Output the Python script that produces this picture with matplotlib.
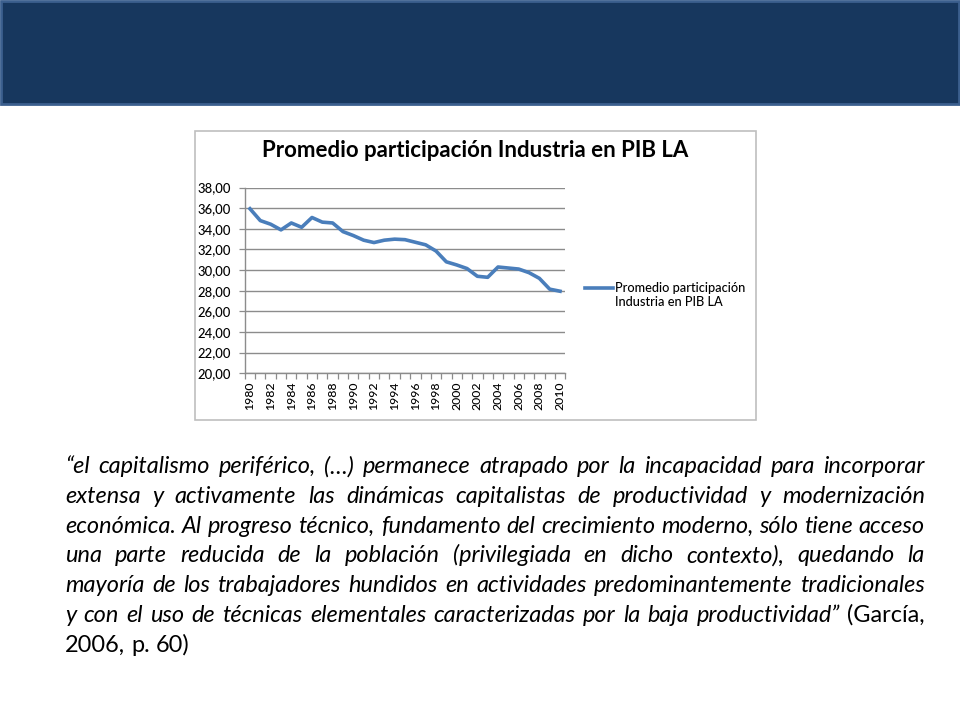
import matplotlib
matplotlib.use("Agg")
import matplotlib.pyplot as plt
from matplotlib.patches import Rectangle

# ---------------- data ----------------
years = list(range(1980, 2011))
values = [35.95, 34.80, 34.45, 33.90, 34.57, 34.15, 35.10, 34.65, 34.57, 33.73,
          33.35, 32.90, 32.67, 32.90, 33.00, 32.95, 32.70, 32.45, 31.85, 30.80,
          30.50, 30.15, 29.40, 29.30, 30.30, 30.20, 30.10, 29.75, 29.20, 28.15,
          27.95]
ytick_values = [20, 22, 24, 26, 28, 30, 32, 34, 36, 38]
ytick_labels = ["20,00", "22,00", "24,00", "26,00", "28,00", "30,00", "32,00",
                "34,00", "36,00", "38,00"]
xtick_labels = [str(y) for y in years[::2]]
chart_title = "Promedio participación Industria en PIB LA"
series_name = "Promedio participación\nIndustria en PIB LA"

# quote: (italic part, upright part) per line
quote_lines = [
    ("“el capitalismo periférico, (…) permanece atrapado por la incapacidad para incorporar", ""),
    ("extensa y activamente las dinámicas capitalistas de productividad y modernización", ""),
    ("económica. Al progreso técnico, fundamento del crecimiento moderno, sólo tiene acceso", ""),
    ("una parte reducida de la población (privilegiada en dicho contexto), quedando la", ""),
    ("mayoría de los trabajadores hundidos en actividades predominantemente tradicionales", ""),
    ("y con el uso de técnicas elementales caracterizadas por la baja productividad”", "(García,"),
    ("", "2006, p. 60)"),
]

# ---------------- figure ----------------
W, H = 960, 720
FONT = "Lato"
plt.rcParams["font.family"] = [FONT, "DejaVu Sans"]
fig = plt.figure(figsize=(W / 100, H / 100), dpi=100)
fig.patch.set_facecolor("white")


def fx(x):
    return x / W


def fy(y):
    return 1 - y / H


# header band
fig.add_artist(Rectangle((fx(1), fy(104)), fx(958), 103 / H, transform=fig.transFigure,
                         facecolor="#17375E", edgecolor="#3B5F8E", linewidth=2, zorder=0))

# chart box
fig.add_artist(Rectangle((fx(194.5), fy(419.5)), fx(561), 288.5 / H, transform=fig.transFigure,
                         facecolor="white", edgecolor="#BFBFBF", linewidth=1.2, zorder=0))

# axes
ax = fig.add_axes([fx(244.8), fy(373.2), fx(320.4), 185.6 / H])
ax.set_facecolor("none")
xs = list(range(len(years)))
ax.plot(xs, values, color="#4A7EBB", linewidth=2.6, solid_joinstyle="round",
        label=series_name, zorder=3)
ax.set_xlim(-0.5, len(years) - 0.5)
ax.set_ylim(20, 38)
ax.set_yticks(ytick_values)
ax.set_yticklabels(ytick_labels, fontweight=500)
ax.set_xticks(xs[::2])
ax.set_xticklabels(xtick_labels, rotation=90, fontweight=500)
ax.set_xticks([i - 0.5 for i in range(len(years) + 1)], minor=True)
ax.tick_params(axis="x", which="major", length=0, pad=6, labelsize=8.8, labelcolor="black")
ax.tick_params(axis="x", which="minor", length=4, width=0.9, color="#8C8C8C", direction="out")
ax.tick_params(axis="y", which="major", length=4, width=0.9, color="#8C8C8C", direction="out",
               pad=6, labelsize=9.4, labelcolor="black")
ax.grid(axis="y", color="#8C8C8C", linewidth=1.0, zorder=1)
for s in ("top", "right"):
    ax.spines[s].set_visible(False)
for s in ("left", "bottom"):
    ax.spines[s].set_color("#8C8C8C")
    ax.spines[s].set_linewidth(1.0)

# legend
leg = ax.legend(loc="upper left", bbox_to_anchor=(fx(585), fy(282)), bbox_transform=fig.transFigure,
                frameon=False, prop={"size": 9.2, "weight": 500}, handlelength=2.2,
                handletextpad=0.15, borderpad=0, borderaxespad=0)
for t in leg.get_texts():
    t.set_color("black")
# legend line at the level of the first text line (as in the original)
for h in leg.get_lines():
    h.set_ydata([v + 5.6 for v in h.get_ydata()])

# chart title (fit to measured width)
title = fig.text(fx(475), fy(157), chart_title, ha="center", va="baseline",
                 fontsize=16, fontweight="bold", color="black")
fig.canvas.draw()
r = fig.canvas.get_renderer()
title.set_fontsize(16 * 428 / title.get_window_extent(r).width)

# ---------------- quote paragraph (justified) ----------------
X0, X1 = 65, 925
BASE0, STEP = 473.3, 29.7


def words_of(lp):
    return [(w, "italic") for w in lp[0].split()] + [(w, "normal") for w in lp[1].split()]


probe = fig.text(0, 0, quote_lines[4][0], fontsize=16, fontstyle="italic", family=FONT)
fig.canvas.draw()
qsize = 16 * (X1 - X0) / probe.get_window_extent(r).width * 0.985
probe.remove()

sp_art = fig.text(0, 0, "a a", fontsize=qsize, family=FONT)
aa = fig.text(0, 0, "aa", fontsize=qsize, family=FONT)
fig.canvas.draw()
natural_space = sp_art.get_window_extent(r).width - aa.get_window_extent(r).width
sp_art.remove()
aa.remove()

for i, lp in enumerate(quote_lines):
    base = BASE0 + i * STEP
    toks = words_of(lp)
    arts = [fig.text(0, fy(base), wd, fontsize=qsize, fontstyle=st, family=FONT,
                     color="black", ha="left", va="baseline") for wd, st in toks]
    fig.canvas.draw()
    widths = [a.get_window_extent(r).width for a in arts]
    if i < len(quote_lines) - 1 and len(arts) > 1:
        gap = (X1 - X0 - sum(widths)) / (len(arts) - 1)
    else:
        gap = natural_space
    x = X0
    for a, wdt in zip(arts, widths):
        a.set_x(fx(x))
        x += wdt + gap

fig.savefig("out.png", dpi=100, facecolor="white")
